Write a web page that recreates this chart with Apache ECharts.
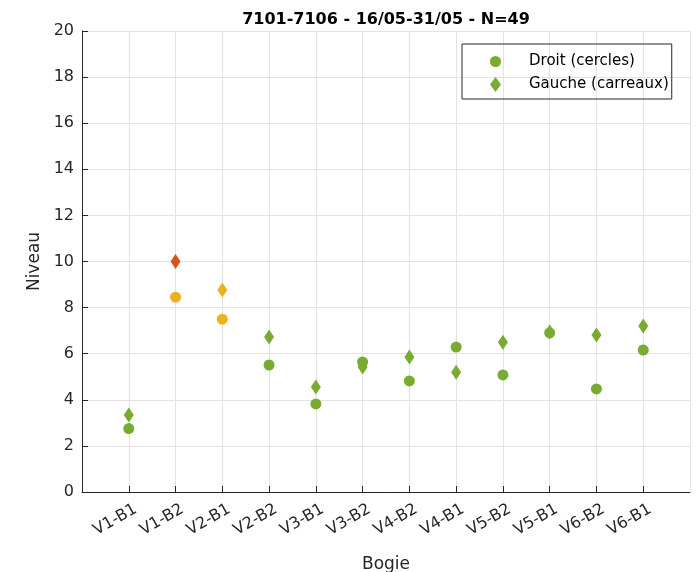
<!DOCTYPE html>
<html><head><meta charset="utf-8">
<script src="https://cdn.jsdelivr.net/npm/echarts@6/dist/echarts.min.js"></script>
<style>html,body{margin:0;padding:0;background:#fff}#c{width:700px;height:572px}</style>
</head><body><div id="c"></div>
<script>
const categories = ['V1-B1','V1-B2','V2-B1','V2-B2','V3-B1','V3-B2','V4-B2','V4-B1','V5-B2','V5-B1','V6-B2','V6-B1'];
const droit = [2.75, 8.45, 7.5, 5.51, 3.82, 5.64, 4.82, 6.29, 5.08, 6.9, 4.47, 6.16];
const gauche = [3.34, 10.0, 8.76, 6.72, 4.56, 5.42, 5.86, 5.2, 6.5, 6.94, 6.81, 7.2];
const yTicks = [0, 2, 4, 6, 8, 10, 12, 14, 16, 18, 20];
const title = '7101-7106 - 16/05-31/05 - N=49';

const GREEN = '#77ac30', ORANGE = '#edb120', RED = '#d95319';
function colorFor(v) { return v >= 10 ? RED : (v >= 7.5 ? ORANGE : GREEN); }
const axisCats = [''].concat(categories, ['']);
function toData(arr) {
  return arr.map((v, i) => ({ value: [i + 1, v], itemStyle: { color: colorFor(v) } }));
}
const font = 'DejaVu Sans, Arial, sans-serif';
const chart = echarts.init(document.getElementById('c'), null, { renderer: 'canvas' });
chart.setOption({
  animation: false,
  title: { text: title, left: 381, top: 7, textAlign: 'center',
    textStyle: { fontFamily: font, fontSize: 16, fontWeight: 'bold', color: '#000' } },
  grid: { left: 82, right: 10, top: 31, bottom: 80, outerBoundsMode: 'none', containLabel: false },
  legend: {
    orient: 'vertical', left: 462, top: 44,
    borderColor: '#262626', borderWidth: 1, borderRadius: 0,
    padding: [10, 3, 7, 28], itemGap: 8, itemWidth: 11, itemHeight: 15,
    textStyle: { fontFamily: font, fontSize: 15, color: '#000', padding: [0, 0, 0, 23] },
    data: [
      { name: 'Droit (cercles)', icon: 'circle', itemStyle: { color: GREEN } },
      { name: 'Gauche (carreaux)', icon: 'diamond', itemStyle: { color: GREEN } }
    ]
  },
  xAxis: {
    type: 'category', data: axisCats, boundaryGap: false,
    name: 'Bogie', nameLocation: 'middle', nameGap: 64,
    nameTextStyle: { fontFamily: font, fontSize: 17, color: '#262626' },
    axisLine: { lineStyle: { color: '#262626', width: 1 } },
    axisTick: { inside: true, length: 6, lineStyle: { color: '#262626' },
      interval: (i) => i > 0 && i < axisCats.length - 1 },
    axisLabel: { rotate: 30, interval: 0, fontFamily: font, fontSize: 16, color: '#262626',
      margin: 20, padding: [0, -8, 0, 0] },
    splitLine: { show: true, lineStyle: { color: '#e3e3e3', width: 1 } }
  },
  yAxis: {
    type: 'value', min: yTicks[0], max: yTicks[yTicks.length - 1], interval: 2,
    name: 'Niveau', nameLocation: 'middle', nameGap: 36,
    nameTextStyle: { fontFamily: font, fontSize: 17, color: '#262626' },
    axisLine: { show: true, lineStyle: { color: '#262626', width: 1 } },
    axisTick: { show: true, inside: true, length: 6, lineStyle: { color: '#262626' } },
    axisLabel: { fontFamily: font, fontSize: 16, color: '#262626', margin: 8 },
    splitLine: { show: true, lineStyle: { color: '#e3e3e3', width: 1 } }
  },
  series: [
    { name: 'Droit (cercles)', type: 'scatter', symbol: 'circle', symbolSize: 11,
      itemStyle: { color: GREEN, opacity: 1 }, data: toData(droit) },
    { name: 'Gauche (carreaux)', type: 'scatter', symbol: 'diamond', symbolSize: [10, 15],
      itemStyle: { color: GREEN, opacity: 1 }, data: toData(gauche) }
  ]
});
</script></body></html>
